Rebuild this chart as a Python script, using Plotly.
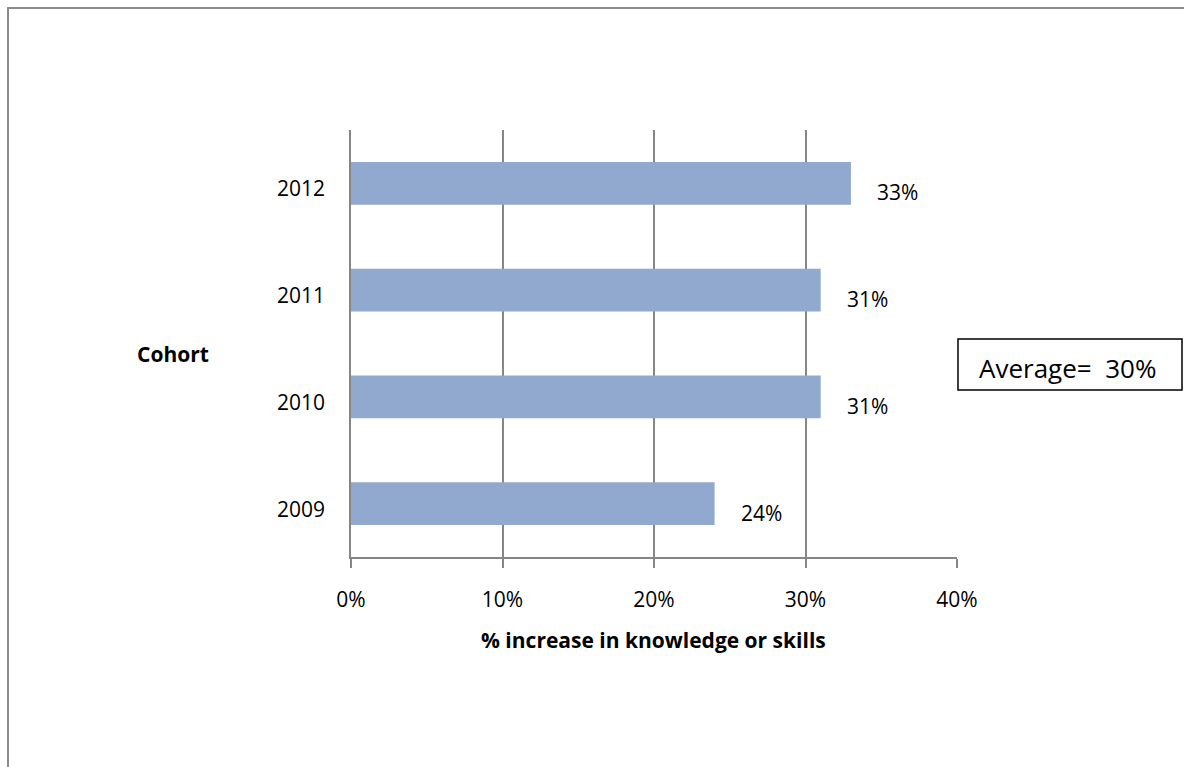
import plotly.graph_objects as go

cohorts = ["2009", "2010", "2011", "2012"]
increase_pct = [24, 31, 31, 33]
x_tick_vals = [0, 10, 20, 30, 40]
x_tick_text = ["0%", "10%", "20%", "30%", "40%"]
x_title = "% increase in knowledge or skills"
y_title = "Cohort"
average_text = "Average=  30%"

W, H = 1184, 767
L, R, T, B = 351, 957, 130, 557  # plot area in screenshot pixels

def px(x):
    return (x - L) / (R - L)

def py(y):
    return (B - y) / (B - T)

FONT = "Open Sans"
GRID = "#868686"
FS = 21

fig = go.Figure()
fig.add_trace(go.Bar(
    y=cohorts, x=increase_pct, orientation="h",
    marker=dict(color="#91a9ce", line=dict(width=0)),
    width=0.4, hoverinfo="skip",
))

# category labels (slightly below bar centres, as in the reference)
for i, c in enumerate(cohorts):
    fig.add_annotation(x=px(327), y=i, xref="paper", yref="y", text=c,
                       showarrow=False, xanchor="right", yanchor="middle",
                       yshift=-5, font=dict(family=FONT, size=FS, color="#000"))

# value labels (category index used as the y position on the category axis)
for i, v in enumerate(increase_pct):
    fig.add_annotation(x=v, y=i, xref="x", yref="y", text=f"{v}%",
                       showarrow=False, xanchor="left", yanchor="middle",
                       xshift=24, yshift=-9,
                       font=dict(family=FONT, size=FS, color="#000"))

fig.add_annotation(x=px(653), y=py(640), xref="paper", yref="paper",
                   text=f"<b>{x_title}</b>", showarrow=False,
                   xanchor="center", yanchor="middle",
                   font=dict(family=FONT, size=FS, color="#000"))
fig.add_annotation(x=px(173), y=py(354), xref="paper", yref="paper",
                   text=f"<b>{y_title}</b>", showarrow=False,
                   xanchor="center", yanchor="middle",
                   font=dict(family=FONT, size=FS, color="#000"))

# average box
fig.add_shape(type="rect", xref="paper", yref="paper",
              x0=px(958), x1=px(1182), y0=py(390), y1=py(339),
              line=dict(color="#000", width=1.5), fillcolor="rgba(0,0,0,0)")
fig.add_annotation(x=px(977), y=py(368), xref="paper", yref="paper",
                   text=average_text, showarrow=False,
                   xanchor="left", yanchor="middle",
                   font=dict(family=FONT, size=26, color="#000"))

# outer chart border (extends past the page on right/bottom)
fig.add_shape(type="rect", xref="paper", yref="paper",
              x0=px(8), x1=px(1300), y0=py(900), y1=py(8),
              line=dict(color="#8c8c8c", width=2), fillcolor="rgba(0,0,0,0)")

fig.update_xaxes(range=[0, 40], tickvals=x_tick_vals, ticktext=x_tick_text,
                 showgrid=True, gridcolor=GRID, gridwidth=1.5,
                 showline=True, linecolor=GRID, linewidth=1.5,
                 ticks="outside", ticklen=9, tickcolor=GRID, tickwidth=1.5,
                 ticklabelstandoff=14, zeroline=False,
                 tickfont=dict(family=FONT, size=FS, color="#000"),
                 fixedrange=True)
fig.update_yaxes(type="category", categoryorder="array", categoryarray=cohorts,
                 range=[-0.5, len(cohorts) - 0.5],
                 showgrid=False, showline=True, linecolor=GRID, linewidth=1.5,
                 ticks="", showticklabels=False,
                 fixedrange=True)

fig.update_layout(width=W, height=H, autosize=False,
                  margin=dict(l=L, r=W - R, t=T, b=H - B, pad=0),
                  paper_bgcolor="white", plot_bgcolor="white",
                  showlegend=False, bargap=0.6)

fig.write_html("out.html", config={"displayModeBar": False},
               post_script="document.body.style.margin='0';"
                           "document.body.style.overflow='hidden';")
